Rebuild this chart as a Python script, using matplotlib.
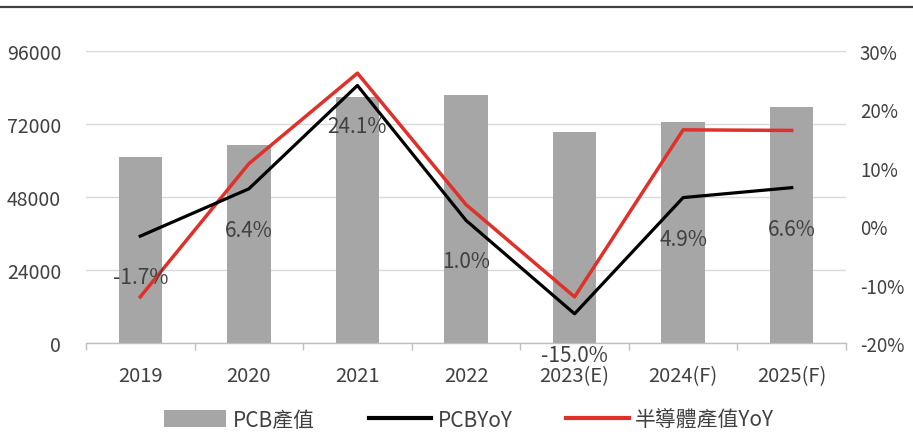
import matplotlib
matplotlib.use("Agg")
import matplotlib.pyplot as plt
from matplotlib.lines import Line2D
from matplotlib.patches import Patch
import numpy as np

plt.rcParams['font.family'] = ['Noto Sans CJK TC', 'DejaVu Sans']

categories = ["2019", "2020", "2021", "2022", "2023(E)", "2024(F)", "2025(F)"]
pcb_value = [61150, 65100, 80800, 81600, 69400, 72800, 77600]
pcb_yoy = [-1.7, 6.4, 24.1, 1.0, -15.0, 4.9, 6.6]
semi_yoy = [-12.1, 10.7, 26.2, 3.7, -12.1, 16.5, 16.4]
left_ticks = [0, 24000, 48000, 72000, 96000]
right_ticks = [-20, -10, 0, 10, 20, 30]

fig = plt.figure(figsize=(9.13, 4.35), dpi=100)
ax = fig.add_axes([86/913, 1-344/435, (846-86)/913, (344-52)/435])
ax2 = ax.twinx()

x = np.arange(len(categories))
ax.bar(x, pcb_value, width=0.4, color="#a6a6a6", zorder=2)
ax.set_ylim(0, 96000)
ax.set_xlim(-0.5, len(categories) - 0.5)
ax.set_yticks(left_ticks)
ax.set_yticklabels([str(v) for v in left_ticks])
ax.grid(axis='y', color="#d9d9d9", linewidth=1, zorder=0)
ax.set_axisbelow(True)
for s in ["top", "left", "right"]:
    ax.spines[s].set_visible(False)
    ax2.spines[s].set_visible(False)
ax2.spines["bottom"].set_visible(False)
ax.spines["bottom"].set_color("#bfbfbf")
ax.spines["bottom"].set_linewidth(1)

ax.set_xticks(x)
ax.set_xticklabels(categories)
ax.set_xticks(np.arange(-0.5, len(categories)), minor=True)
ax.tick_params(axis='x', which='major', length=0, pad=16, labelsize=14.5, labelcolor="#404040")
ax.tick_params(axis='x', which='minor', length=5, color="#bfbfbf", width=1)
ax.tick_params(axis='y', length=0, pad=18, labelsize=14, labelcolor="#404040")

ax2.plot(x, pcb_yoy, color="black", linewidth=2.3, zorder=4)
ax2.plot(x, semi_yoy, color="#e0302a", linewidth=2.5, zorder=3)
ax2.set_ylim(-20, 30)
ax2.set_yticks(right_ticks)
ax2.set_yticklabels([f"{v}%" for v in right_ticks])
ax2.tick_params(axis='y', length=0, pad=10, labelsize=13.5, labelcolor="#404040")

for xi, v in zip(x, pcb_yoy):
    ax2.annotate(f"{v:.1f}%", (xi, v), xytext=(0, -29.5), textcoords="offset points",
                 ha="center", va="center", fontsize=15, color="#404040", zorder=5)

fig.add_artist(Line2D([0, 1], [1-8/435, 1-8/435], color="#404040", linewidth=1.6,
                      transform=fig.transFigure))

handles = [Patch(facecolor="#a6a6a6", edgecolor="none"),
           Line2D([], [], color="black", linewidth=3),
           Line2D([], [], color="#e0302a", linewidth=3)]
labels = ["PCB產值", "PCBYoY", "半導體產值YoY"]
fig.legend(handles, labels, loc="center", bbox_to_anchor=(469/913, 1-421/435), ncol=3,
           frameon=False, fontsize=15, handlelength=3.0, handleheight=0.9,
           handletextpad=0.3, columnspacing=2.6, labelcolor="#404040")

fig.savefig("out.png", dpi=100)
